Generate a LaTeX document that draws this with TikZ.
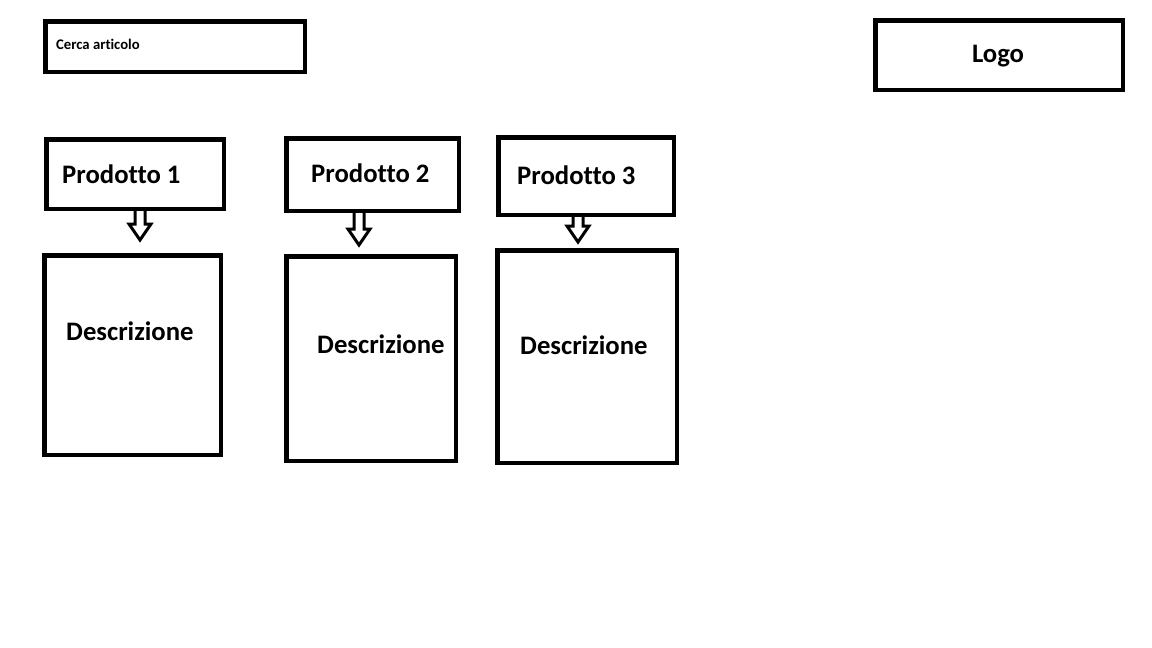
\documentclass[tikz,border=0pt]{standalone}
\usepackage{fontspec}
\setmainfont{Carlito}[Ligatures=NoCommon]
\usetikzlibrary{calc,positioning}

\newcommand{\grande}{\fontsize{26.7}{32}\selectfont\bfseries}
\newcommand{\piccolo}{\fontsize{14.7}{18}\selectfont\bfseries}

% hollow block arrow: [gap], from node, to node, x position
\newcommand{\freccia}[4][9]{%
    \coordinate (fx) at (#4,0);
    \coordinate (fa) at (#2.south -| fx);
    \coordinate (fb) at ($(#3.north -| fx)+(0,-#1)$);
    \coordinate (fh) at ($(fb)+(0,-16)$);
    \draw [frecc] ($(fa)+(-5,0)$) -- ($(fh)+(-5,0)$) -- ($(fh)+(-11,0)$) -- (fb)
                  -- ($(fh)+(11,0)$) -- ($(fh)+(5,0)$) -- ($(fa)+(5,0)$);
}

\begin{document}
\begin{tikzpicture}[
            x=1pt,y=-1pt,
            frecc/.style={line width=3pt,line join=miter}
        ]
            \useasboundingbox (0,0) rectangle (1152,648);

            \begin{scope}[
                every node/.style={draw,line width=4.5pt,inner sep=0pt}
            ]
                \node (cerca) [minimum width=259.5pt,minimum height=50.5pt] at (175,46.5)   {};
                \node (logo)  [minimum width=247.5pt,minimum height=69.5pt] at (999,55)     {};
                \node (p1)    [minimum width=177.5pt,minimum height=69.5pt] at (135,174)    {};
                \node (p2)    [minimum width=172.5pt,minimum height=72.5pt] at (372.5,174.5) {};
                \node (p3)    [minimum width=175.5pt,minimum height=77.5pt] at (586,176)    {};
                \node (d1)    [minimum width=176.5pt,minimum height=199.5pt] at (132.5,355) {};
                \node (d2)    [minimum width=169.5pt,minimum height=204.5pt] at (371,358.5) {};
                \node (d3)    [minimum width=179.5pt,minimum height=212.5pt] at (587,356.5) {};
            \end{scope}

            \begin{scope}[
                every node/.style={inner sep=0pt,anchor=base west,font=\grande}
            ]
                \node (tc) [font=\piccolo] at (56,49)  {Cerca articolo};
                \node (tl) [anchor=base]   at (998,62) {Logo};
                \node (t1) at (62,183)  {Prodotto 1};
                \node (t2) at (311,182) {Prodotto 2};
                \node (t3) at (517,184) {Prodotto 3};
                \node (s1) at (66,340)  {Descrizione};
                \node (s2) at (317,353) {Descrizione};
                \node (s3) at (520,354) {Descrizione};
            \end{scope}

            \freccia[13]{p1}{d1}{140}
            \freccia[9]{p2}{d2}{359}
            \freccia[6]{p3}{d3}{578}
        \end{tikzpicture}
\end{document}
